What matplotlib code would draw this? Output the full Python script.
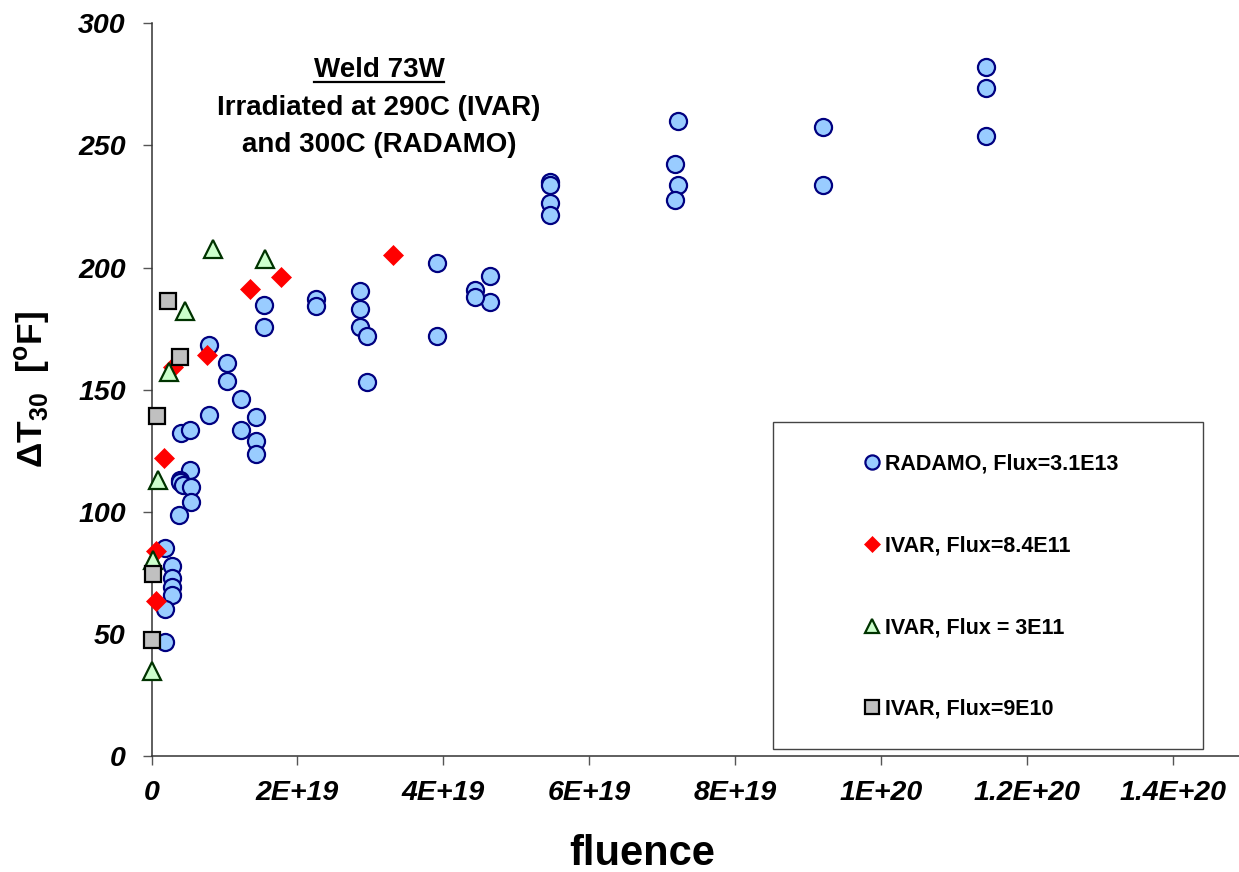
import matplotlib
matplotlib.use("Agg")
import matplotlib.pyplot as plt
from matplotlib.patches import Rectangle
from matplotlib.lines import Line2D

plt.rcParams['font.family'] = ['Liberation Sans', 'DejaVu Sans']
plt.rcParams['mathtext.fontset'] = 'custom'
plt.rcParams['mathtext.rm'] = 'Liberation Sans:bold'
plt.rcParams['mathtext.it'] = 'Liberation Sans:bold:italic'
plt.rcParams['mathtext.bf'] = 'Liberation Sans:bold'
plt.rcParams['mathtext.default'] = 'rm'

# ---- data: fluence (n/cm^2) and shift in 30 ft-lb temperature (F) ----
radamo_fluence = [
    11.43e19, 11.43e19, 11.43e19,
    9.20e19, 9.20e19,
    7.21e19, 7.17e19, 7.21e19, 7.17e19,
    5.46e19, 5.46e19, 5.46e19, 5.46e19,
    3.91e19, 3.91e19,
    4.64e19, 4.64e19,
    4.43e19, 4.43e19,
    2.86e19, 2.86e19, 2.86e19, 2.95e19, 2.95e19,
    2.25e19, 2.25e19,
    1.54e19, 1.54e19,
    0.79e19, 0.79e19,
    1.04e19, 1.04e19,
    1.23e19, 1.23e19,
    1.43e19, 1.43e19, 1.43e19,
    0.41e19, 0.53e19, 0.53e19, 0.39e19, 0.39e19, 0.43e19,
    0.54e19, 0.54e19, 0.38e19,
    0.18e19, 0.28e19, 0.28e19, 0.28e19, 0.28e19, 0.18e19, 0.18e19,
]
radamo_shift = [
    282.2, 273.6, 253.9,
    257.4, 233.8,
    260.0, 242.4, 233.8, 227.7,
    235.2, 233.8, 226.4, 221.6,
    201.8, 172.0,
    196.6, 185.7,
    190.9, 187.9,
    190.5, 183.0, 175.6, 172.0, 153.2,
    187.2, 184.3,
    184.5, 175.6,
    168.4, 139.7,
    160.9, 153.4,
    146.2, 133.6,
    138.6, 128.8, 123.6,
    132.2, 133.3, 117.2, 113.1, 112.0, 111.1,
    110.3, 103.8, 98.8,
    85.3, 77.7, 72.9, 69.2, 66.0, 60.3, 46.7,
]

ivar_84e11_fluence = [3.31e19, 1.77e19, 1.35e19, 0.76e19, 0.29e19, 0.17e19, 0.06e19, 0.06e19]
ivar_84e11_shift = [205.2, 196.3, 191.3, 164.3, 159.4, 122.1, 83.8, 63.6]

ivar_3e11_fluence = [0.84e19, 1.56e19, 0.46e19, 0.24e19, 0.09e19, 0.02e19, 0.01e19]
ivar_3e11_shift = [207.4, 203.6, 182.3, 157.4, 113.1, 80.4, 34.7]

ivar_9e10_fluence = [0.23e19, 0.39e19, 0.08e19, 0.02e19, 0.01e19]
ivar_9e10_shift = [186.5, 163.2, 139.3, 74.7, 47.7]

series_labels = [
    "RADAMO, Flux=3.1E13",
    "IVAR, Flux=8.4E11",
    "IVAR, Flux = 3E11",
    "IVAR, Flux=9E10",
]

x_ticks = [0, 2e19, 4e19, 6e19, 8e19, 1e20, 1.2e20, 1.4e20]
x_tick_labels = ["0", "2E+19", "4E+19", "6E+19", "8E+19", "1E+20", "1.2E+20", "1.4E+20"]
y_ticks = [0, 50, 100, 150, 200, 250, 300]

W, H = 1239, 872
fig = plt.figure(figsize=(W / 100, H / 100), dpi=100)
ax = fig.add_axes([151.5 / W, (H - 756) / H, (W - 151.5) / W, (756 - 23.3) / H])
ax_w = W - 151.5
ax_h = 756 - 23.3

h_radamo, = ax.plot(radamo_fluence, radamo_shift, linestyle='none', marker='o',
                    markersize=12.3, markerfacecolor='#99CCFF', markeredgecolor='#000080',
                    markeredgewidth=1.6, zorder=3, clip_on=False)
h_84, = ax.plot(ivar_84e11_fluence, ivar_84e11_shift, linestyle='none', marker='D',
                markersize=10, markerfacecolor='#FF0000', markeredgecolor='#FF0000',
                markeredgewidth=0.5, zorder=4, clip_on=False)
h_3, = ax.plot(ivar_3e11_fluence, ivar_3e11_shift, linestyle='none', marker='^',
               markersize=13, markerfacecolor='#CCFFCC', markeredgecolor='#003300',
               markeredgewidth=1.6, zorder=5, clip_on=False)
h_9, = ax.plot(ivar_9e10_fluence, ivar_9e10_shift, linestyle='none', marker='s',
               markersize=11.5, markerfacecolor='#C0C0C0', markeredgecolor='#000000',
               markeredgewidth=1.6, zorder=6, clip_on=False)

ax.set_xlim(0, 1.49e20)
ax.set_ylim(0, 300)
ax.set_xticks(x_ticks)
ax.set_xticklabels(x_tick_labels)
ax.set_yticks(y_ticks)

for side in ('top', 'right'):
    ax.spines[side].set_visible(False)
for side in ('left', 'bottom'):
    ax.spines[side].set_color('#333333')
    ax.spines[side].set_linewidth(1.1)

ax.tick_params(axis='both', direction='out', length=6.5, width=1.0, color='#555555',
               labelsize=20.5)
ax.tick_params(axis='y', pad=12)
ax.tick_params(axis='x', pad=10.5)
for lab in ax.get_xticklabels() + ax.get_yticklabels():
    lab.set_fontweight('bold')
    lab.set_fontstyle('italic')

ax.set_xlabel("fluence", fontsize=30, fontweight='bold')
ax.xaxis.label.set_va('baseline')
ax.xaxis.set_label_coords((642 - 151.5) / ax_w, (756 - 865) / ax_h)

ax.set_ylabel("ΔT$_{30}$  [$^{o}$F]", fontsize=25.5, fontweight='bold')
ax.yaxis.set_label_coords((52 - 151.5) / ax_w, 0.5)

# annotation block
tx = (379 - 151.5) / ax_w
t1 = ax.text(tx, (756 - 76.7) / ax_h, "Weld 73W", transform=ax.transAxes,
             ha='center', va='baseline', fontsize=20, fontweight='bold')
ax.text(tx, (756 - 115) / ax_h, "Irradiated at 290C (IVAR)", transform=ax.transAxes,
        ha='center', va='baseline', fontsize=20, fontweight='bold')
ax.text(tx, (756 - 151.7) / ax_h, "and 300C (RADAMO)", transform=ax.transAxes,
        ha='center', va='baseline', fontsize=20, fontweight='bold')

# legend box and entries
box = Rectangle((773 / W, (H - 749) / H), (1203 - 773) / W, (749 - 422) / H,
                transform=fig.transFigure, facecolor='white', edgecolor='#444444',
                linewidth=1.0, zorder=8, clip_on=False)
ax.add_patch(box)
leg = ax.legend([h_radamo, h_84, h_3, h_9], series_labels, loc='upper left',
                bbox_to_anchor=(850 / W, (H - 443) / H), bbox_transform=fig.transFigure,
                frameon=False, fontsize=15.5, handlelength=1.0, handletextpad=0.12,
                labelspacing=2.82, markerscale=0.83, borderpad=0.0)
for t in leg.get_texts():
    t.set_fontweight('bold')
leg.set_zorder(10)

# underline under the title line
fig.canvas.draw()
bb = t1.get_window_extent(renderer=fig.canvas.get_renderer())
uy = (H - 82.5) / H
fig.lines.append(Line2D([bb.x0 / W, bb.x1 / W], [uy, uy], transform=fig.transFigure,
                        color='black', linewidth=1.6))

fig.savefig("out.png", dpi=100)
